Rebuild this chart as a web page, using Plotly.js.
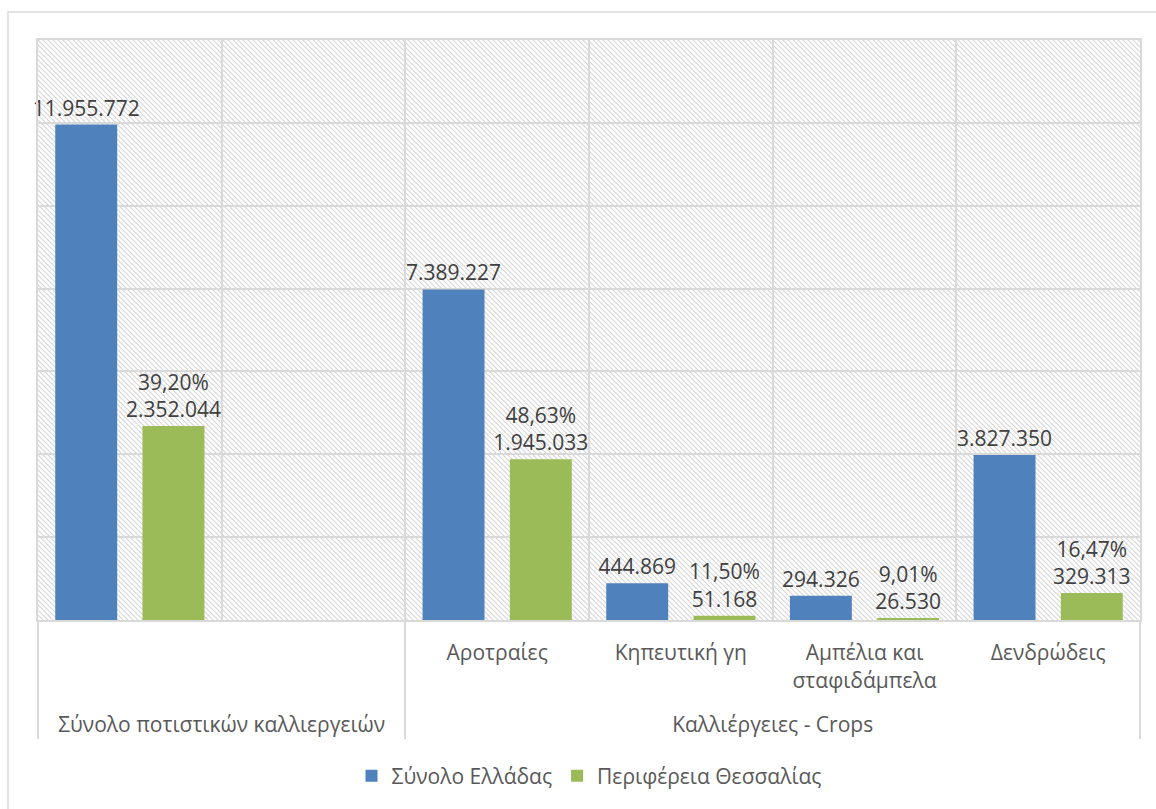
<!DOCTYPE html>
<html>
<head>
<meta charset="utf-8">
<script src="https://cdn.plot.ly/plotly-3.0.1.min.js"></script>
<style>
  html, body { margin: 0; padding: 0; background: #ffffff; }
  #chart { width: 1156px; height: 809px; }
</style>
</head>
<body>
<div id="chart"></div>
<script>
// ---- Data (bar heights; label texts as printed) ----
const groups = [
  "Σύνολο ποτιστικών καλλιεργειών",
  "Σύνολο ποτιστικών καλλιεργειών",
  "Καλλιέργειες - Crops",
  "Καλλιέργειες - Crops",
  "Καλλιέργειες - Crops",
  "Καλλιέργειες - Crops"
];
const categories = [" ", "  ", "Αροτραίες", "Κηπευτική γη", "Αμπέλια και<br>σταφιδάμπελα<br> ", "Δενδρώδεις"];
const seriesNames = ["Σύνολο Ελλάδας", "Περιφέρεια Θεσσαλίας"];
const greeceBars = [11960000, null, 7980000, 885000, 587000, 3980000];
const thessalyBars = [4680000, null, 3880000, 102000, 50000, 650000];
const greeceLabels = ["11.955.772", "", "7.389.227", "444.869", "294.326", "3.827.350"];
const thessalyPercents = ["39,20%", "", "48,63%", "11,50%", "9,01%", "16,47%"];
const thessalyLabels = ["2.352.044", "", "1.945.033", "51.168", "26.530", "329.313"];

const thessalyText = thessalyLabels.map((v, i) => v ? thessalyPercents[i] + "<br>" + v : "");

const FONT = "'Open Sans', 'Noto Sans', sans-serif";
const GRID = "#d9d9d9";

const hatchSvg =
  "<svg xmlns='http://www.w3.org/2000/svg' width='1102' height='580'>" +
  "<defs><pattern id='p' width='5' height='5' patternUnits='userSpaceOnUse'>" +
  "<path d='M-1,-1 L6,6 M-6,-1 L1,6 M4,-1 L11,6' stroke='#d4d4d4' stroke-width='1.1'/>" +
  "</pattern></defs><rect width='1102' height='580' fill='url(#p)'/></svg>";
const hatchUri = "data:image/svg+xml;charset=utf-8," + encodeURIComponent(hatchSvg);

const traces = [
  {
    type: "bar",
    name: seriesNames[0],
    x: [groups, categories],
    y: greeceBars,
    text: greeceLabels,
    textposition: "outside",
    constraintext: "none",
    textfont: { family: FONT, size: 21, color: "#404040" },
    marker: { color: "#4F81BD" },
    cliponaxis: false,
    hoverinfo: "skip"
  },
  {
    type: "bar",
    name: seriesNames[1],
    x: [groups, categories],
    y: thessalyBars,
    text: thessalyText,
    textposition: "outside",
    constraintext: "none",
    textfont: { family: FONT, size: 21, color: "#404040" },
    marker: { color: "#9BBB59" },
    cliponaxis: false,
    hoverinfo: "skip"
  }
];

const layout = {
  width: 1156,
  height: 809,
  margin: { l: 38, r: 16, t: 40, b: 189 },
  paper_bgcolor: "#ffffff",
  plot_bgcolor: "#ffffff",
  font: { family: FONT, size: 21, color: "#595959" },
  barmode: "group",
  bargap: 0.05,
  bargroupgap: 0.29,
  showlegend: true,
  legend: {
    orientation: "h",
    x: 0.5, xanchor: "center",
    y: -0.269, yanchor: "middle",
    font: { family: FONT, size: 21, color: "#595959" },
    traceorder: "normal"
  },
  xaxis: {
    type: "multicategory",
    tickson: "boundaries",
    showgrid: true,
    gridcolor: GRID,
    gridwidth: 2,
    showline: true,
    mirror: true,
    linecolor: GRID,
    linewidth: 2,
    ticks: "",
    ticklabelstandoff: 13,
    showdividers: true,
    dividercolor: GRID,
    dividerwidth: 2,
    tickfont: { family: FONT, size: 21, color: "#595959" }
  },
  yaxis: {
    range: [0, 14000000],
    dtick: 2000000,
    showticklabels: false,
    showgrid: true,
    gridcolor: GRID,
    gridwidth: 2,
    zeroline: false,
    showline: true,
    mirror: true,
    linecolor: GRID,
    linewidth: 2,
    ticks: ""
  },
  images: [{
    source: hatchUri,
    xref: "paper", yref: "paper",
    x: 0, y: 1, sizex: 1, sizey: 1,
    xanchor: "left", yanchor: "top",
    sizing: "stretch",
    layer: "below"
  }],
  shapes: [{
    type: "rect",
    xref: "paper", yref: "paper",
    x0: (8 - 38) / 1102, x1: (1180 - 38) / 1102,
    y0: (620 - 830) / 580, y1: (620 - 12) / 580,
    line: { color: GRID, width: 1.5 },
    fillcolor: "rgba(0,0,0,0)",
    layer: "below"
  }]
};

Plotly.newPlot("chart", traces, layout, { displayModeBar: false, staticPlot: true });
</script>
</body>
</html>
